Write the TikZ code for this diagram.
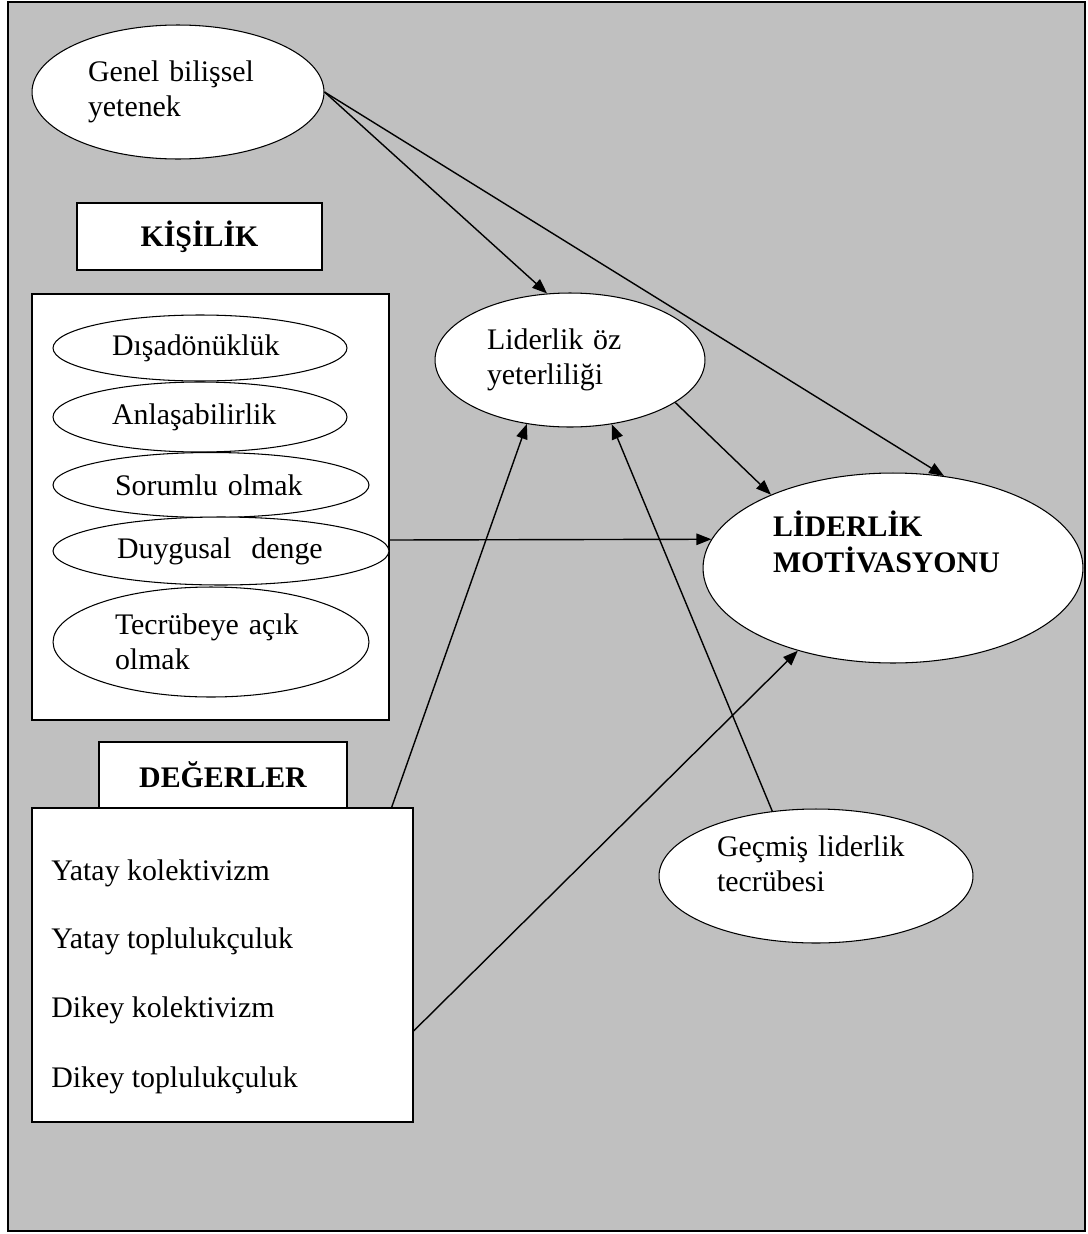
\documentclass[tikz,border=0pt]{standalone}
\usepackage{fontspec}
\setmainfont{Liberation Serif}
\usetikzlibrary{positioning, arrows.meta, shapes.geometric}
\definecolor{zemin}{RGB}{192,192,192}

\begin{document}
\begin{tikzpicture}[
        % ----- genel ayarlar -----
        x=0.02cm, y=-0.02cm,
        font=\fontsize{17}{20}\selectfont,
        >={Triangle[length=8.5pt,width=6.5pt]},
        % elips ve kutular
        oval/.style={ellipse, draw, fill=white, inner sep=0pt, align=left, line width=0.6pt},
        kutu/.style={rectangle, draw, fill=white, inner sep=0pt, line width=0.9pt},
        baslik/.style={kutu, font=\fontsize{17}{20}\selectfont\bfseries},
        madde/.style={anchor=base west, inner sep=0pt},
        ok/.style={->, line width=0.8pt}
    ]
    \useasboundingbox (0,0) rectangle (1088,1234);
    \draw[fill=zemin, line width=0.8pt] (8,2) rectangle (1085,1231);

    \node[oval, minimum width=5.84cm, minimum height=2.68cm, text width=3.6cm] (genel) at (178,92) {Genel bilişsel\\yetenek};

    % ----- kişilik -----
    \node[baslik, minimum width=4.9cm, minimum height=1.34cm] (kisilik) at (199.5,236.5) {KİŞİLİK};
    \node[kutu, minimum width=7.14cm, minimum height=8.52cm] (kbox) at (210.5,507) {};
    \node[oval, minimum width=5.88cm, minimum height=1.32cm, text width=3.52cm] (disa) at (200,348) {Dışadönüklük};
    \node[oval, minimum width=5.88cm, minimum height=1.40cm, text width=3.52cm] (anla) at (200,417) {Anlaşabilirlik};
    \node[oval, minimum width=6.32cm, minimum height=1.30cm, text width=3.84cm] (soru) at (211,485) {Sorumlu olmak};
    \node[oval, minimum width=6.72cm, minimum height=1.36cm, text width=4.16cm] (duygu) at (221,551) {Duygusal\ \ denge};
    \node[oval, minimum width=6.32cm, minimum height=2.20cm, text width=3.84cm] (tecr) at (211,642) {Tecrübeye açık\\olmak};

    % ----- değerler -----
    \node[baslik, minimum width=4.96cm, minimum height=1.32cm] (degerler) at (223,775) {DEĞERLER};
    \node[kutu, minimum width=7.62cm, minimum height=6.28cm] (vbox) at (222.5,965) {};
    \node[madde] (m1) at (51,880) {Yatay kolektivizm};
    \node[madde] (m2) at (51,948) {Yatay toplulukçuluk};
    \node[madde] (m3) at (51,1017) {Dikey kolektivizm};
    \node[madde] (m4) at (51,1087) {Dikey toplulukçuluk};

    % ----- sağ taraf -----
    \node[oval, minimum width=5.4cm, minimum height=2.68cm, text width=3.32cm] (oz) at (570,360) {Liderlik öz\\yeterliliği};
    \node[oval, minimum width=7.6cm, minimum height=3.8cm, text width=4.8cm, text depth=50pt,
          font=\fontsize{17}{20}\selectfont\bfseries] (mot) at (893,568) {LİDERLİK\\MOTİVASYONU};
    \node[oval, minimum width=6.28cm, minimum height=2.68cm, text width=3.96cm, text depth=34pt] (gecmis) at (816,876) {Geçmiş liderlik\\tecrübesi};

    % ----- oklar -----
    \path[ok]
    (genel.east) edge (oz.109)
    (genel.east) edge (mot.61)
    (oz.-22) edge (mot.149)
    ([yshift=0.22cm]duygu.east) edge (mot.171)
    (vbox.43) edge (oz.236)
    (gecmis.124) edge (oz.-57)
    (vbox.-19) edge (mot.221);
\end{tikzpicture}
\end{document}
